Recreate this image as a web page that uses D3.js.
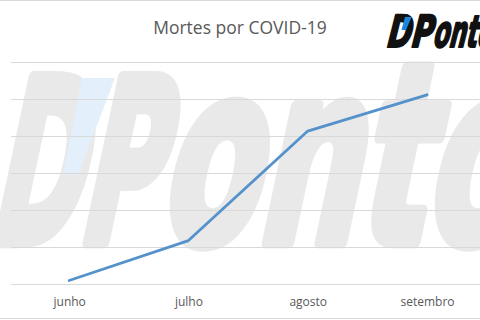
<!DOCTYPE html>
<html><head><meta charset="utf-8">
<script src="https://cdn.jsdelivr.net/npm/d3@7/dist/d3.min.js"></script>
<style>html,body{margin:0;padding:0;background:#fff;}svg{display:block;}</style>
</head><body>
<svg id="c" width="480" height="320"></svg>
<script>
const title = "Mortes por COVID-19";
const months = ["junho", "julho", "agosto", "setembro"];
const deaths = [4, 58, 206, 255];
const yTicks = [0, 50, 100, 150, 200, 250, 300];
const brandCaps = "DP";
const brandLower = "onto";

const W = 480, H = 320;
const svg = d3.select("#c");
const FONT_BRAND = "'Liberation Sans Narrow','DejaVu Sans Condensed','Liberation Sans',sans-serif";

// outer frame lines
svg.append("line").attr("x1",0).attr("x2",W).attr("y1",0.5).attr("y2",0.5).attr("stroke","#d9d9d9");
svg.append("line").attr("x1",0).attr("x2",W).attr("y1",318.5).attr("y2",318.5).attr("stroke","#d9d9d9");

function brandText(grp, txt, x, size, len, color, weight) {
  grp.append("text")
    .attr("x", x).attr("y", 0)
    .attr("font-family", FONT_BRAND).attr("font-weight", "bold")
    .attr("font-size", size).attr("fill", color)
    .attr("stroke", color).attr("stroke-width", size * weight).attr("stroke-linejoin", "round")
    .attr("textLength", len).attr("lengthAdjust", "spacingAndGlyphs")
    .text(txt);
}

// watermark (skewed heavy text)
const wm = svg.append("g").attr("transform", "translate(-13,242) skewX(-12)");
brandText(wm, brandCaps, 0, 226, 168, "#e9e9e9", 0.055);
brandText(wm, brandLower, 170, 248, 362, "#e9e9e9", 0.05);
svg.append("path")
  .attr("d", d3.line()([[82, 78], [115, 78], [78, 175], [63, 175]]) + "Z")
  .attr("fill", "#e3effb");

const x = d3.scalePoint().domain(months).range([9.5, 486.7]).padding(0.5);
const y = d3.scaleLinear().domain([0, 300]).range([283.5, 61.5]);

// gridlines
svg.append("g").selectAll("line").data(yTicks).join("line")
  .attr("x1", 11).attr("x2", W)
  .attr("y1", d => Math.round(y(d)) + 0.5).attr("y2", d => Math.round(y(d)) + 0.5)
  .attr("stroke", "#d9d9d9").attr("stroke-width", 1);

// x axis labels
const xAxis = d3.axisBottom(x).tickSize(0).tickPadding(0);
const gx = svg.append("g").attr("transform", "translate(0,297)").call(xAxis);
gx.select(".domain").remove();
gx.selectAll("text").attr("font-family", "'Open Sans',sans-serif").attr("font-size", 12).attr("fill", "#595959");

// line
svg.append("path").datum(months.map((m, i) => [m, deaths[i]]))
  .attr("fill", "none").attr("stroke", "#5592cb").attr("stroke-width", 2.8)
  .attr("stroke-linejoin", "round").attr("stroke-linecap", "round")
  .attr("d", d3.line().x(d => x(d[0])).y(d => y(d[1])));

// title
svg.append("text").attr("x", 240).attr("y", 34).attr("text-anchor", "middle")
  .attr("font-family", "'Open Sans',sans-serif").attr("font-size", 17.5).attr("fill", "#595959")
  .text(title);

// logo
const lg = svg.append("g").attr("transform", "translate(385,47) skewX(-14)");
brandText(lg, brandCaps, 0, 44, 46, "#111111", 0.05);
brandText(lg, brandLower, 47, 44, 60, "#111111", 0.05);
svg.append("path")
  .attr("d", d3.line()([[405, 17], [411.5, 17], [406, 30], [401.5, 30]]) + "Z")
  .attr("fill", "#1a86e0");
</script>
</body></html>
